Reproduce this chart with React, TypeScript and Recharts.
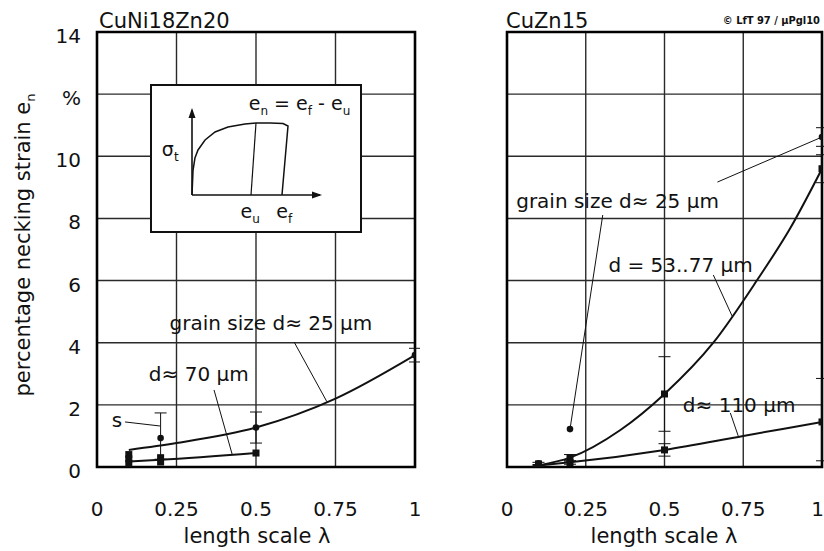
import React from 'react';
import {
  ComposedChart,
  Line,
  Scatter,
  XAxis,
  YAxis,
  CartesianGrid,
  ReferenceLine,
  ReferenceDot,
  ReferenceArea,
  ErrorBar,
} from 'recharts';

// ---------- axes ----------
const X_TICKS = [0, 0.25, 0.5, 0.75, 1];
const X_TICK_LABELS = ['0', '0.25', '0.5', '0.75', '1'];
const Y_TICKS = [0, 2, 4, 6, 8, 10, 12, 14];
const Y_TICK_LABELS = ['0', '2', '4', '6', '8', '10', '%', '14'];

// ---------- CuNi18Zn20 (left) ----------
const leftCurve25 = [
  { x: 0.1, y: 0.55 },
  { x: 0.25, y: 0.77 },
  { x: 0.5, y: 1.27 },
  { x: 0.75, y: 2.2 },
  { x: 1, y: 3.6 },
];
const leftCurve70 = [
  { x: 0.1, y: 0.18 },
  { x: 0.2, y: 0.23 },
  { x: 0.5, y: 0.45 },
];
const leftSquares = [
  { x: 0.1, y: 0.4 },
  { x: 0.1, y: 0.26 },
  { x: 0.1, y: 0.12 },
  { x: 0.2, y: 0.3 },
  { x: 0.2, y: 0.16 },
  { x: 0.5, y: 0.45 },
];
const leftCircles = [
  { x: 0.2, y: 0.93, err: [0.68, 0.81] },
  { x: 0.5, y: 1.27, err: [0.5, 0.5] },
  { x: 1, y: 3.6, err: [0.22, 0.22] },
];
const leftLabels = [
  { text: 'grain size d\u2248 25 \u00b5m', x: 0.547, y: 4.63 },
  { text: 'd\u2248 70 \u00b5m', x: 0.32, y: 2.99 },
  { text: 's', x: 0.063, y: 1.51 },
];
const leftLeaders = [
  { x1: 0.62, y1: 4.02, x2: 0.723, y2: 2.1 },
  { x1: 0.368, y1: 2.48, x2: 0.425, y2: 0.41 },
  { x1: 0.088, y1: 1.45, x2: 0.198, y2: 1.32 },
];

// ---------- CuZn15 (right) ----------
const rightCurve53 = [
  { x: 0.1, y: 0.05 },
  { x: 0.2, y: 0.3 },
  { x: 0.36, y: 1.19 },
  { x: 0.5, y: 2.35 },
  { x: 0.655, y: 4.0 },
  { x: 0.793, y: 6.0 },
  { x: 0.9, y: 7.7 },
  { x: 1, y: 9.6 },
];
const rightCurve110 = [
  { x: 0.1, y: 0.05 },
  { x: 0.2, y: 0.15 },
  { x: 0.5, y: 0.55 },
  { x: 0.75, y: 1.0 },
  { x: 1, y: 1.45 },
];
const rightSquares = [
  { x: 0.1, y: 0.1, err: [0.05, 0.05] },
  { x: 0.1, y: 0.05, err: [0.03, 0.03] },
  { x: 0.2, y: 0.3, err: [0.1, 0.1] },
  { x: 0.2, y: 0.14, err: [0.05, 0.05] },
  { x: 0.5, y: 2.35, err: [1.2, 1.2] },
  { x: 0.5, y: 0.55, err: [0.2, 0.2] },
  { x: 1, y: 9.6, err: [0.45, 0.45] },
  { x: 1, y: 1.45, err: [1.25, 1.4] },
];
const rightCircles = [
  { x: 0.1, y: 0.12 },
  { x: 0.2, y: 1.22 },
  { x: 1, y: 10.62, err: [0.3, 0.3] },
];
const rightLabels = [
  { text: 'grain size d\u2248 25 \u00b5m', x: 0.351, y: 8.56 },
  { text: 'd = 53..77 \u00b5m', x: 0.551, y: 6.5 },
  { text: 'd\u2248 110 \u00b5m', x: 0.737, y: 2.0 },
];
const rightLeaders = [
  { x1: 0.668, y1: 9.17, x2: 1.0, y2: 10.62 },
  { x1: 0.304, y1: 8.11, x2: 0.2, y2: 1.22 },
  { x1: 0.655, y1: 6.18, x2: 0.715, y2: 4.85 },
  { x1: 0.709, y1: 1.74, x2: 0.734, y2: 1.0 },
];

// ---------- inset sketch (true stress vs strain) ----------
const insetCurve = [
  { x: 0, y: 0 },
  { x: 0.008, y: 0.29 },
  { x: 0.023, y: 0.435 },
  { x: 0.047, y: 0.53 },
  { x: 0.102, y: 0.647 },
  { x: 0.18, y: 0.741 },
  { x: 0.281, y: 0.8 },
  { x: 0.414, y: 0.835 },
  { x: 0.5, y: 0.847 },
  { x: 0.61, y: 0.847 },
  { x: 0.711, y: 0.841 },
  { x: 0.75, y: 0.812 },
  { x: 0.703, y: 0 },
];
const insetUnload = [
  { x: 0.5, y: 0.847 },
  { x: 0.461, y: 0 },
];
const insetArrowX = [{ x: 1, y: 0 }];
const insetArrowY = [{ x: 0, y: 1 }];

const FONT = 'DejaVu Sans, Liberation Sans, sans-serif';
const INK = '#111';

const Square = (p: any) => (
  <rect x={p.cx - 3.5} y={p.cy - 3.5} width={7} height={7} fill={INK} />
);
const Dot = (p: any) => <circle cx={p.cx} cy={p.cy} r={3.3} fill={INK} />;

const makeLabel = (text: string, size = 20) => (p: any) => (
  <text
    x={p.cx}
    y={p.cy}
    dy="0.36em"
    textAnchor="middle"
    fontFamily={FONT}
    fontSize={size}
    fill={INK}
  >
    {text}
  </text>
);

const makeXTick = (left: boolean) => (p: any) => {
  const i = X_TICKS.indexOf(p.payload.value);
  const last = !left && i === X_TICKS.length - 1;
  return (
    <text
      x={last ? 824 - 420 : p.x}
      y={p.y + 49}
      textAnchor={last ? 'end' : 'middle'}
      fontFamily={FONT}
      fontSize={20}
      fill={INK}
    >
      {X_TICK_LABELS[i]}
    </text>
  );
};
const YTick = (p: any) => {
  const i = Y_TICKS.indexOf(p.payload.value);
  return (
    <text x={p.x - 16} y={p.y + 11} textAnchor="end" fontFamily={FONT} fontSize={20} fill={INK}>
      {Y_TICK_LABELS[i]}
    </text>
  );
};
const EmptyTick = () => <g />;

function Panel(props: {
  left: boolean;
  curves: { x: number; y: number }[][];
  squares: any[];
  circles: any[];
  labels: { text: string; x: number; y: number }[];
  leaders: { x1: number; y1: number; x2: number; y2: number }[];
}) {
  const { left } = props;
  const XT = makeXTick(left);
  return (
    <ComposedChart
      width={left ? 420 : 404}
      height={551}
      margin={{ top: 32, right: left ? 5 : 2, bottom: 0, left: left ? 0 : 86 }}
    >
      <CartesianGrid stroke="#2a2a2a" strokeWidth={1.4} />
      <XAxis
        type="number"
        dataKey="x"
        domain={[0, 1]}
        ticks={X_TICKS}
        height={84}
        axisLine={false}
        tickLine={false}
        tickSize={0}
        tickMargin={0}
        tick={<XT />}
        interval={0}
        allowDataOverflow
      />
      <YAxis
        type="number"
        dataKey="y"
        domain={[0, 14]}
        ticks={Y_TICKS}
        width={left ? 97 : 1}
        axisLine={false}
        tickLine={false}
        tickSize={0}
        tickMargin={0}
        tick={left ? <YTick /> : <EmptyTick />}
        interval={0}
        allowDataOverflow
      />
      <ReferenceArea x1={0} x2={1} y1={0} y2={14} fill="none" stroke="#000" strokeWidth={2.6} />
      {props.curves.map((c, i) => (
        <Line
          key={'c' + i}
          data={c}
          dataKey="y"
          type="monotone"
          stroke={INK}
          strokeWidth={2}
          dot={false}
          isAnimationActive={false}
        />
      ))}
      {props.leaders.map((l, i) => (
        <ReferenceLine
          key={'l' + i}
          segment={[
            { x: l.x1, y: l.y1 },
            { x: l.x2, y: l.y2 },
          ]}
          stroke={INK}
          strokeWidth={1}
        />
      ))}
      <Scatter data={props.squares} dataKey="y" shape={Square} isAnimationActive={false}>
        {left ? null : (
          <ErrorBar dataKey="err" direction="y" width={6} stroke={INK} strokeWidth={1} />
        )}
      </Scatter>
      <Scatter data={props.circles} dataKey="y" shape={Dot} isAnimationActive={false}>
        <ErrorBar dataKey="err" direction="y" width={6} stroke={INK} strokeWidth={1} />
      </Scatter>
      {props.labels.map((l, i) => (
        <ReferenceDot
          key={'t' + i}
          x={l.x}
          y={l.y}
          r={0}
          ifOverflow="visible"
          shape={makeLabel(l.text)}
        />
      ))}
    </ComposedChart>
  );
}

const ArrowRight = (p: any) => (
  <polygon
    points={`${p.cx + 2},${p.cy} ${p.cx - 8},${p.cy - 3.5} ${p.cx - 8},${p.cy + 3.5}`}
    fill={INK}
  />
);
const ArrowUp = (p: any) => (
  <polygon
    points={`${p.cx},${p.cy - 2} ${p.cx - 3.5},${p.cy + 8} ${p.cx + 3.5},${p.cy + 8}`}
    fill={INK}
  />
);

function Inset() {
  return (
    <ComposedChart width={208} height={145} margin={{ top: 24, right: 40, bottom: 36, left: 40 }}>
      <XAxis type="number" dataKey="x" domain={[0, 1]} hide />
      <YAxis type="number" dataKey="y" domain={[0, 1]} hide />
      <ReferenceLine x={0} stroke={INK} strokeWidth={1.6} />
      <ReferenceLine y={0} stroke={INK} strokeWidth={1.6} />
      <Line data={insetCurve} dataKey="y" type="linear" stroke={INK} strokeWidth={1.5} dot={false} isAnimationActive={false} />
      <Line data={insetUnload} dataKey="y" type="linear" stroke={INK} strokeWidth={1.2} dot={false} isAnimationActive={false} />
      <Scatter data={insetArrowX} dataKey="y" shape={ArrowRight} isAnimationActive={false} />
      <Scatter data={insetArrowY} dataKey="y" shape={ArrowUp} isAnimationActive={false} />
      <ReferenceDot
        x={0.84}
        y={1.08}
        r={0}
        ifOverflow="visible"
        shape={(p: any) => (
          <text x={p.cx} y={p.cy + 7} textAnchor="middle" fontFamily={FONT} fontSize={19} fill={INK}>
            e<tspan fontSize={12} dy={5}>n</tspan>
            <tspan dy={-5}> = e</tspan>
            <tspan fontSize={12} dy={5}>f</tspan>
            <tspan dy={-5}> - e</tspan>
            <tspan fontSize={12} dy={5}>u</tspan>
          </text>
        )}
      />
      <ReferenceDot
        x={-0.17}
        y={0.53}
        r={0}
        ifOverflow="visible"
        shape={(p: any) => (
          <text x={p.cx} y={p.cy + 6} textAnchor="middle" fontFamily={FONT} fontSize={19} fill={INK}>
            {'\u03c3'}
            <tspan fontSize={12} dy={5}>t</tspan>
          </text>
        )}
      />
      <ReferenceDot
        x={0.455}
        y={-0.2}
        r={0}
        ifOverflow="visible"
        shape={(p: any) => (
          <text x={p.cx} y={p.cy + 6} textAnchor="middle" fontFamily={FONT} fontSize={19} fill={INK}>
            e<tspan fontSize={12} dy={5}>u</tspan>
          </text>
        )}
      />
      <ReferenceDot
        x={0.72}
        y={-0.2}
        r={0}
        ifOverflow="visible"
        shape={(p: any) => (
          <text x={p.cx} y={p.cy + 6} textAnchor="middle" fontFamily={FONT} fontSize={19} fill={INK}>
            e<tspan fontSize={12} dy={5}>f</tspan>
          </text>
        )}
      />
    </ComposedChart>
  );
}

export default function App() {
  return (
    <div
      style={{
        position: 'absolute',
        left: 0,
        top: 0,
        width: 824,
        height: 551,
        background: '#fff',
        overflow: 'hidden',
      }}
    >
      <div style={{ position: 'absolute', left: 0, top: 0 }}>
        <Panel
          left
          curves={[leftCurve25, leftCurve70]}
          squares={leftSquares}
          circles={leftCircles}
          labels={leftLabels}
          leaders={leftLeaders}
        />
      </div>
      <div style={{ position: 'absolute', left: 420, top: 0 }}>
        <Panel
          left={false}
          curves={[rightCurve53, rightCurve110]}
          squares={rightSquares}
          circles={rightCircles}
          labels={rightLabels}
          leaders={rightLeaders}
        />
      </div>
      <div
        style={{
          position: 'absolute',
          left: 150,
          top: 84,
          width: 212,
          height: 149,
          boxSizing: 'border-box',
          border: '2px solid #111',
          background: '#fff',
        }}
      >
        <Inset />
      </div>
      <svg
        width={824}
        height={551}
        style={{ position: 'absolute', left: 0, top: 0, pointerEvents: 'none' }}
      >
        <text x={99} y={28} fontFamily={FONT} fontSize={21} fill={INK}>
          CuNi18Zn20
        </text>
        <text x={506} y={28} fontFamily={FONT} fontSize={21} fill={INK}>
          CuZn15
        </text>
        <text
          x={820}
          y={24}
          textAnchor="end"
          fontFamily="Liberation Sans Narrow, DejaVu Sans Condensed, sans-serif"
          fontWeight="bold"
          fontSize={11}
          fill={INK}
        >
          {'\u00a9 LfT 97 / \u00b5Pgl10'}
        </text>
        <text x={257} y={543} textAnchor="middle" fontFamily={FONT} fontSize={21} fill={INK}>
          length scale {'\u03bb'}
        </text>
        <text x={664} y={543} textAnchor="middle" fontFamily={FONT} fontSize={21} fill={INK}>
          length scale {'\u03bb'}
        </text>
        <text
          transform="translate(30,245) rotate(-90)"
          textAnchor="middle"
          fontFamily={FONT}
          fontSize={21}
          fill={INK}
        >
          percentage necking strain e<tspan fontSize={13} dy={5}>n</tspan>
        </text>
      </svg>
    </div>
  );
}
